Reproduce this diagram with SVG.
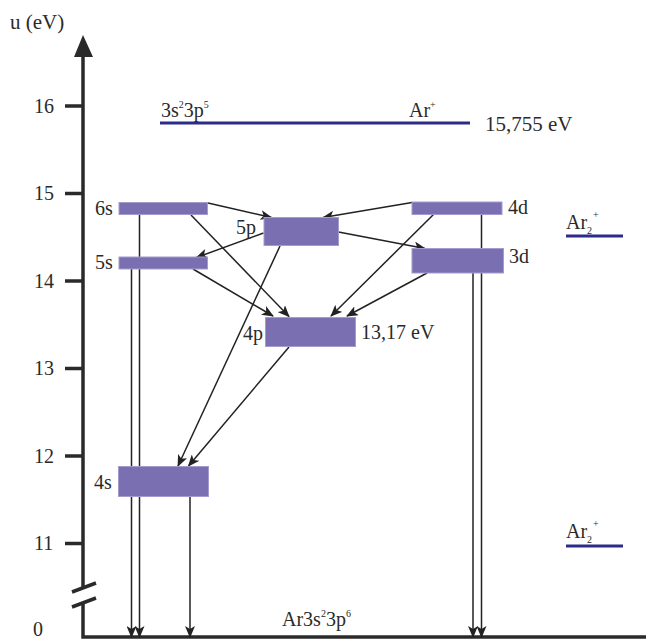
<svg xmlns="http://www.w3.org/2000/svg" width="646" height="639" viewBox="0 0 646 639">
<defs>
<style>
text{font-family:"Liberation Serif","Times New Roman",serif;font-size:20px;fill:#2a2a2a}
.big{font-size:21px}
.sup{font-size:10px}
.lvl{fill:#7a70b1;stroke:#a49ccf;stroke-width:1}
.ion{stroke:#2e2b88;stroke-width:3;fill:none}
.axis{stroke:#2a2a2a;stroke-width:3.5;fill:none}
.tick{stroke:#2a2a2a;stroke-width:3.5}
.ar{stroke:#222;stroke-width:1.5;fill:none;marker-end:url(#ah)}
</style>
<marker id="ah" viewBox="0 0 12 10" refX="11" refY="5" markerWidth="12" markerHeight="10" markerUnits="userSpaceOnUse" orient="auto">
<path d="M0,0 L12,5 L0,10 L3,5 z" fill="#222"/>
</marker>
</defs>
<rect width="646" height="639" fill="#fff"/>

<g id="axis">
<text class="big" x="10" y="29">u (eV)</text>
<path class="axis" d="M83,50 V588 M83,603 V637 H646"/>
<path d="M74,57 L83,35 L93,57 z" fill="#2a2a2a"/>
<path class="tick" d="M72,592 L96,583 M72,607 L96,598"/>
<path class="tick" d="M65,106 H83 M65,193.5 H83 M65,281 H83 M65,368.5 H83 M65,456 H83 M65,543.5 H83"/>
<text x="34" y="113">16</text>
<text x="34" y="200">15</text>
<text x="34" y="288">14</text>
<text x="34" y="375">13</text>
<text x="34" y="463">12</text>
<text x="34" y="550">11</text>
<text x="33" y="636">0</text>
</g>

<g id="ion">
<line class="ion" x1="160" y1="123" x2="470" y2="123"/>
<text x="161" y="117">3s<tspan class="sup" dy="-9">2</tspan><tspan dy="9">3p</tspan><tspan class="sup" dy="-9">5</tspan></text>
<text x="409" y="117">Ar<tspan class="sup" dy="-9">+</tspan></text>
<text class="big" x="485" y="131">15,755 eV</text>
</g>

<g id="ar2-upper">
<line class="ion" x1="566" y1="236" x2="623" y2="236"/>
<text x="566" y="229">Ar<tspan class="sup" dy="5">2</tspan><tspan class="sup" dx="1" dy="-16">+</tspan></text>
</g>
<g id="ar2-lower">
<line class="ion" x1="566" y1="546" x2="623" y2="546"/>
<text x="566" y="538">Ar<tspan class="sup" dy="5">2</tspan><tspan class="sup" dx="1" dy="-16">+</tspan></text>
</g>

<g id="ground">
<text x="282" y="626">Ar3s<tspan class="sup" dy="-9">2</tspan><tspan dy="9">3p</tspan><tspan class="sup" dy="-9">6</tspan></text>
</g>

<g id="connectors">
<line class="ar" x1="139.5" y1="214" x2="139.5" y2="637"/>
<line class="ar" x1="131.5" y1="269" x2="131.5" y2="637"/>
<line class="ar" x1="190" y1="497" x2="190" y2="637"/>
<line class="ar" x1="481.5" y1="214" x2="481.5" y2="637"/>
<line class="ar" x1="473" y1="273" x2="473" y2="637"/>
<line class="ar" x1="208" y1="203" x2="271.5" y2="217.5"/>
<line class="ar" x1="412" y1="202.5" x2="323" y2="217.5"/>
<line class="ar" x1="263.5" y1="233" x2="196.5" y2="257.5"/>
<line class="ar" x1="338.5" y1="232" x2="425" y2="248.5"/>
<line class="ar" x1="191" y1="215" x2="289" y2="316.5"/>
<line class="ar" x1="193" y1="269" x2="273" y2="316"/>
<line class="ar" x1="433.5" y1="214.5" x2="331" y2="316"/>
<line class="ar" x1="427" y1="273" x2="347" y2="316"/>
<line class="ar" x1="280" y1="246" x2="178" y2="466"/>
<line class="ar" x1="289" y1="347" x2="188.5" y2="466"/>
</g>

<g id="lvl-6s"><rect class="lvl" x="119" y="202.5" width="88.5" height="12"/><text x="95" y="215">6s</text></g>
<g id="lvl-5s"><rect class="lvl" x="119" y="257" width="88.5" height="12"/><text x="95" y="269">5s</text></g>
<g id="lvl-5p"><rect class="lvl" x="264" y="217.5" width="74.5" height="28"/><text x="236" y="234">5p</text></g>
<g id="lvl-4d"><rect class="lvl" x="412" y="202" width="90" height="12.5"/><text x="508" y="214">4d</text></g>
<g id="lvl-3d"><rect class="lvl" x="412" y="248.5" width="91.5" height="24.5"/><text x="509" y="263">3d</text></g>
<g id="lvl-4p"><rect class="lvl" x="265.5" y="317.5" width="90" height="29"/><text x="243" y="340">4p</text><text x="361" y="339">13,17 eV</text></g>
<g id="lvl-4s"><rect class="lvl" x="118.5" y="466.5" width="90" height="30"/><text x="94" y="489">4s</text></g>
</svg>
